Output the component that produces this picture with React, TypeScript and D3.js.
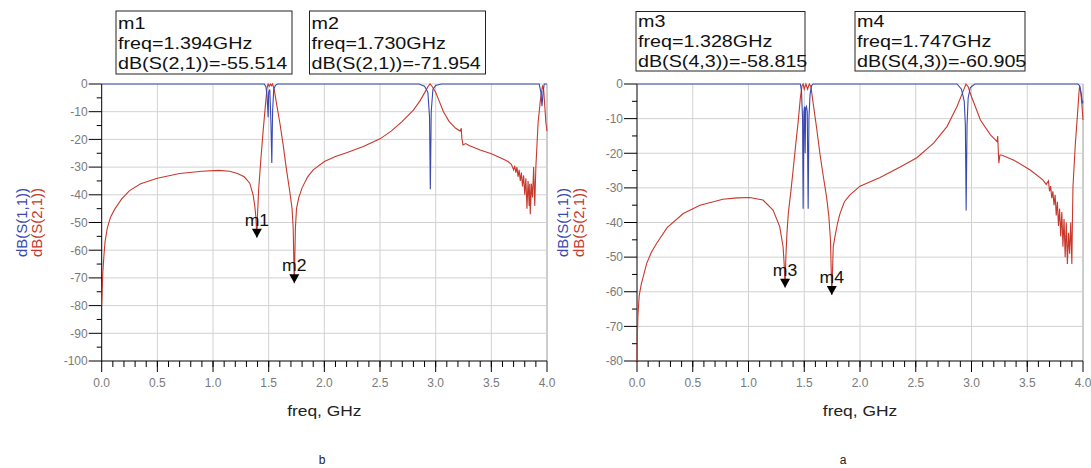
import { useEffect, useRef } from 'react'
import * as d3 from 'd3'

type Pt = [number, number]

// panel b: dB(S(2,1)) (red) and dB(S(1,1)) (blue), [freq GHz, dB]
const s21B: Pt[] = [
  [0.0, -80], [0.004, -75], [0.01, -68], [0.02, -62], [0.03, -57], [0.05, -52], [0.08, -48],
  [0.12, -45], [0.18, -41.5], [0.25, -38.5], [0.35, -36], [0.5, -34], [0.7, -32.3], [0.9, -31.5],
  [1.05, -31.2], [1.15, -31.5], [1.22, -32.3], [1.28, -33.5], [1.33, -35.8], [1.36, -40],
  [1.375, -44], [1.385, -48], [1.394, -55.5], [1.4, -47], [1.41, -38], [1.43, -27], [1.45, -17],
  [1.47, -8], [1.485, -1.5], [1.495, 0], [1.505, -0.8], [1.515, 0], [1.525, -0.6], [1.535, 0],
  [1.55, -2], [1.57, -7], [1.6, -14], [1.63, -22], [1.66, -31], [1.69, -39], [1.71, -45],
  [1.72, -52], [1.73, -71.95], [1.74, -52], [1.75, -45], [1.77, -41], [1.8, -37.5], [1.85, -33.5],
  [1.9, -31], [2.0, -28], [2.1, -26.2], [2.2, -24.8], [2.35, -22.6], [2.5, -19.8], [2.6, -17],
  [2.7, -13.5], [2.8, -9.4], [2.86, -6], [2.9, -3.2], [2.93, -1], [2.95, 0], [2.97, -1], [3.0, -3],
  [3.03, -6], [3.07, -10], [3.12, -13.5], [3.18, -16], [3.22, -17], [3.23, -16], [3.235, -19.5],
  [3.245, -22], [3.27, -21.5], [3.3, -22.2], [3.4, -23.8], [3.5, -25.2], [3.6, -27], [3.65, -28],
  [3.68, -29], [3.7, -31], [3.71, -29.5], [3.72, -32], [3.73, -30], [3.74, -33.5], [3.75, -31],
  [3.76, -35], [3.77, -32], [3.78, -37], [3.79, -33], [3.8, -40], [3.81, -34], [3.82, -45],
  [3.83, -35], [3.84, -44], [3.845, -36], [3.85, -47], [3.86, -36], [3.87, -41], [3.88, -30],
  [3.89, -44], [3.9, -30], [3.91, -22], [3.92, -14], [3.94, -6], [3.96, -0.5], [3.97, -2],
  [3.98, -8], [3.99, -14], [4.0, -17],
]
const s11B: Pt[] = [
  [0.0, 0], [1.46, 0], [1.475, -1], [1.485, -4], [1.495, -12], [1.5, -3], [1.51, -2], [1.52, -14],
  [1.528, -28.5], [1.535, -10], [1.545, -2], [1.56, -0.5], [1.58, 0], [2.85, 0], [2.9, -0.8],
  [2.93, -3], [2.945, -12], [2.952, -38], [2.96, -10], [2.975, -2], [3.0, -0.5], [3.05, 0],
  [3.93, 0], [3.945, -3], [3.955, -8], [3.965, -3], [3.975, 0], [4.0, 0],
]

// panel a
const s21A: Pt[] = [
  [0.0, -80], [0.003, -73], [0.008, -67], [0.02, -61], [0.04, -57.6], [0.087, -51.8], [0.13, -48.5],
  [0.177, -46], [0.27, -41.5], [0.415, -37.4], [0.565, -35], [0.77, -33.3], [0.9, -32.9],
  [1.01, -32.8], [1.13, -33.5], [1.22, -36.4], [1.28, -41.2], [1.31, -47], [1.32, -52],
  [1.328, -58.8], [1.335, -50], [1.345, -43], [1.357, -37.4], [1.38, -31], [1.4, -24.9],
  [1.425, -17], [1.447, -10.4], [1.465, -4], [1.48, -0.5], [1.49, 0], [1.5, -1.5], [1.515, 0],
  [1.53, -1.5], [1.545, 0], [1.56, -0.8], [1.58, -5.6], [1.61, -12.5], [1.64, -20], [1.67, -26.5],
  [1.7, -32.6], [1.72, -38], [1.735, -45], [1.747, -60.9], [1.76, -47], [1.776, -44], [1.8, -40],
  [1.82, -37.5], [1.86, -34], [1.91, -32], [2.0, -29.5], [2.18, -27], [2.36, -24], [2.51, -21.3],
  [2.66, -17.1], [2.78, -12.3], [2.87, -6.5], [2.93, -1.7], [2.95, 0], [2.97, -0.8], [3.0, -3.7],
  [3.04, -7], [3.08, -10.4], [3.17, -14.7], [3.21, -16], [3.23, -16.7], [3.235, -15],
  [3.245, -22.9], [3.255, -20.5], [3.27, -20.5], [3.38, -22], [3.53, -24.9], [3.64, -27.7],
  [3.67, -29], [3.69, -28], [3.7, -31], [3.71, -29.5], [3.72, -33], [3.73, -31], [3.74, -35],
  [3.75, -32], [3.76, -38], [3.77, -34], [3.78, -41], [3.79, -36], [3.8, -44], [3.81, -37],
  [3.82, -47], [3.83, -39], [3.84, -50], [3.85, -40], [3.86, -52], [3.87, -43], [3.88, -49],
  [3.89, -40], [3.9, -52], [3.905, -40], [3.91, -29.7], [3.93, -18], [3.95, -9], [3.965, -2],
  [3.97, -0.5], [3.98, -2.5], [3.99, -6], [4.0, -10.4],
]
const s11A: Pt[] = [
  [0.0, 0], [1.465, 0], [1.475, -2], [1.485, -10], [1.49, -36], [1.497, -8], [1.503, -6.5],
  [1.508, -20], [1.513, -7], [1.52, -6.5], [1.527, -8], [1.535, -36], [1.542, -10], [1.552, -3],
  [1.565, -0.5], [1.58, 0], [2.87, 0], [2.91, -1.5], [2.935, -5], [2.945, -12], [2.952, -36.5],
  [2.96, -12], [2.97, -4], [2.99, -1], [3.03, 0], [3.955, 0], [3.97, -0.5], [3.985, -3],
  [3.995, -5.6], [4.0, -5],
]

const markersB = [
  { name: 'm1', freq: 1.394, db: -55.514, param: 'dB(S(2,1))' },
  { name: 'm2', freq: 1.730, db: -71.954, param: 'dB(S(2,1))' },
]
const markersA = [
  { name: 'm3', freq: 1.328, db: -58.815, param: 'dB(S(4,3))' },
  { name: 'm4', freq: 1.747, db: -60.905, param: 'dB(S(4,3))' },
]

const freqTicks = [0, 0.5, 1.0, 1.5, 2.0, 2.5, 3.0, 3.5, 4.0]
const dbTicksB = [0, -10, -20, -30, -40, -50, -60, -70, -80, -90, -100]
const dbTicksA = [0, -10, -20, -30, -40, -50, -60, -70, -80]

const RED = '#c8382c'
const BLUE = '#3a48b0'
const FONT = "'Liberation Sans', Arial, sans-serif"
const SX = 1.16 // the source picture is a bit wide

interface Panel {
  x0: number; x1: number; y0: number; y1: number
  ticks: number[]
  s21: Pt[]; s11: Pt[]
  markers: typeof markersB
  boxes: { x: number; y: number; w: number; h: number; lines: number[] }[]
  yLabelX: [number, number]
  caption: string; captionX: number
}

const panels: Panel[] = [
  {
    x0: 101.7, x1: 547, y0: 84, y1: 361, ticks: dbTicksB, s21: s21B, s11: s11B, markers: markersB,
    boxes: [
      { x: 116, y: 11, w: 176, h: 63, lines: [28.5, 49, 68.5] },
      { x: 309.5, y: 11, w: 176, h: 63, lines: [28.5, 49, 68.5] },
    ],
    yLabelX: [27, 42], caption: 'b', captionX: 322,
  },
  {
    x0: 637, x1: 1083, y0: 84, y1: 361, ticks: dbTicksA, s21: s21A, s11: s11A, markers: markersA,
    boxes: [
      { x: 636, y: 11.5, w: 169, h: 59.5, lines: [26.7, 46.7, 66.5] },
      { x: 855, y: 11.5, w: 170, h: 59.5, lines: [26.7, 46.7, 66.5] },
    ],
    yLabelX: [568, 584], caption: 'a', captionX: 843,
  },
]

function drawPanel(svg: d3.Selection<SVGSVGElement, unknown, null, undefined>, p: Panel) {
  const yMin = d3.min(p.ticks) as number
  const x = d3.scaleLinear().domain([0, 4]).range([p.x0, p.x1])
  const y = d3.scaleLinear().domain([yMin, 0]).range([p.y1, p.y0])
  const g = svg.append('g')

  // grid
  g.selectAll('.vg').data(freqTicks.slice(1)).enter().append('line')
    .attr('x1', d => x(d)).attr('x2', d => x(d)).attr('y1', p.y0).attr('y2', p.y1)
    .attr('stroke', d => (d === 4 ? '#9a9a9a' : '#d2d2d2')).attr('stroke-width', 1)
  g.selectAll('.hg').data(p.ticks.slice(1, -1).concat([0])).enter().append('line')
    .attr('x1', p.x0).attr('x2', p.x1).attr('y1', d => y(d)).attr('y2', d => y(d))
    .attr('stroke', '#d2d2d2').attr('stroke-width', 1)

  // axes
  g.append('line').attr('x1', p.x0).attr('x2', p.x0).attr('y1', p.y0).attr('y2', p.y1 + 0.5)
    .attr('stroke', '#000')
  g.append('line').attr('x1', p.x0).attr('x2', p.x1).attr('y1', p.y1).attr('y2', p.y1)
    .attr('stroke', '#000')

  // y ticks: major every 10 dB, minor every 5
  g.selectAll('.ymin').data(d3.range(yMin + 5, 0, 10)).enter().append('line')
    .attr('x1', p.x0 - 5).attr('x2', p.x0).attr('y1', d => y(d)).attr('y2', d => y(d))
    .attr('stroke', '#000')
  g.selectAll('.ymaj').data(p.ticks).enter().append('line')
    .attr('x1', p.x0 - 13).attr('x2', p.x0).attr('y1', d => y(d)).attr('y2', d => y(d))
    .attr('stroke', '#000')
  g.selectAll('.yl').data(p.ticks).enter().append('text')
    .attr('x', p.x0 - 14).attr('y', d => y(d)).attr('dy', '0.36em')
    .attr('text-anchor', 'end').style('font-size', '12px').style('fill', '#7a7a7a')
    .text(d => String(d))

  // x ticks: major every 0.5, minor every 0.1
  g.selectAll('.xmin').data(d3.range(1, 40).map(i => i / 10)).enter().append('line')
    .attr('x1', d => x(d)).attr('x2', d => x(d)).attr('y1', p.y1).attr('y2', p.y1 + 6)
    .attr('stroke', '#000')
  g.selectAll('.xmaj').data(freqTicks).enter().append('line')
    .attr('x1', d => x(d)).attr('x2', d => x(d)).attr('y1', p.y1).attr('y2', p.y1 + 11)
    .attr('stroke', '#000')
  g.selectAll('.xl').data(freqTicks).enter().append('text')
    .attr('x', d => x(d)).attr('y', p.y1 + 25.5)
    .attr('text-anchor', 'middle').style('font-size', '12px').style('fill', '#7a7a7a')
    .text(d => d.toFixed(1))

  // traces
  const line = d3.line<Pt>().x(d => x(d[0])).y(d => y(d[1]))
  g.append('path').datum(p.s21).attr('d', line).attr('fill', 'none')
    .attr('stroke', RED).attr('stroke-width', 1.1)
  g.append('path').datum(p.s11).attr('d', line).attr('fill', 'none')
    .attr('stroke', BLUE).attr('stroke-width', 1.1)

  // markers
  p.markers.forEach(m => {
    const tx = x(m.freq)
    const ty = y(m.db)
    g.append('path')
      .attr('d', `M${tx - 5},${ty - 9}L${tx + 5},${ty - 9}L${tx},${ty}Z`)
      .attr('fill', '#000')
    g.append('text')
      .attr('transform', `translate(${tx},${ty - 12}) scale(1.1,1)`)
      .attr('text-anchor', 'middle').style('font-size', '16px').style('fill', '#111')
      .text(m.name)
  })

  // marker readout boxes
  p.boxes.forEach((b, i) => {
    const m = p.markers[i]
    g.append('rect').attr('x', b.x).attr('y', b.y).attr('width', b.w).attr('height', b.h)
      .attr('fill', '#fff').attr('stroke', '#222').attr('stroke-width', 1)
    const rows = [m.name, `freq=${m.freq.toFixed(3)}GHz`, `${m.param}=${m.db.toFixed(3)}`]
    rows.forEach((r, k) => {
      g.append('text')
        .attr('transform', `translate(${b.x + 2},${b.lines[k]}) scale(${SX},1)`)
        .style('font-size', '17px').style('fill', '#111')
        .text(r)
    })
  })

  // y axis labels
  const yc = (p.y0 + p.y1) / 2
  ;[['dB(S(1,1))', BLUE], ['dB(S(2,1))', RED]].forEach(([t, c], k) => {
    g.append('text')
      .attr('transform', `translate(${p.yLabelX[k]},${yc}) rotate(-90)`)
      .attr('text-anchor', 'middle').style('font-size', '15px').style('fill', c)
      .text(t)
  })

  // x axis label + caption
  g.append('text')
    .attr('transform', `translate(${(p.x0 + p.x1) / 2},416) scale(${SX},1)`)
    .attr('text-anchor', 'middle').style('font-size', '15px').style('fill', '#222')
    .text('freq, GHz')
  g.append('text')
    .attr('x', p.captionX).attr('y', 464)
    .attr('text-anchor', 'middle').style('font-size', '12px').style('fill', '#222')
    .text(p.caption)
}

export default function App() {
  const svgRef = useRef<SVGSVGElement>(null)

  useEffect(() => {
    if (!svgRef.current) return
    const svg = d3.select(svgRef.current)
    svg.selectAll('*').remove()
    svg.append('rect').attr('width', 1091).attr('height', 468).attr('fill', '#fff')
    panels.forEach(p => drawPanel(svg, p))
  }, [])

  return (
    <svg
      ref={svgRef}
      width={1091}
      height={468}
      style={{ position: 'absolute', left: 0, top: 0, fontFamily: FONT }}
    />
  )
}
